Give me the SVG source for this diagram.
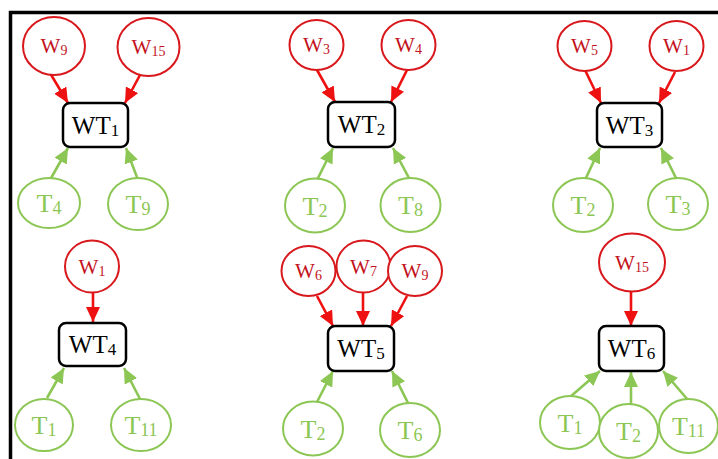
<svg xmlns="http://www.w3.org/2000/svg" width="718" height="459" viewBox="0 0 718 459">
<style>
text{font-family:"Liberation Serif","Times New Roman",serif;text-anchor:middle}
.w ellipse{fill:#fff;stroke:#d8181c;stroke-width:2}
.w text{fill:#c3121c;font-size:21px}
.t ellipse{fill:#fff;stroke:#8cc654;stroke-width:2}
.t text{fill:#8cc654;font-size:26px}
.b rect{fill:#fff;stroke:#000;stroke-width:2.5}
.b text{fill:#000;font-size:25px}
.sw{font-size:14px}
.st{font-size:18px}
.sb{font-size:17px}
.er{stroke:#ee1111;stroke-width:2.6;fill:none;marker-end:url(#ar)}
.eg{stroke:#8cc654;stroke-width:2.6;fill:none;marker-end:url(#ag)}
</style>
<defs>
<marker id="ar" markerUnits="userSpaceOnUse" markerWidth="15" markerHeight="14" refX="15" refY="7" orient="auto"><path d="M0,0 L15,7 L0,14 z" fill="#ee1111"/></marker>
<marker id="ag" markerUnits="userSpaceOnUse" markerWidth="15" markerHeight="14" refX="15" refY="7" orient="auto"><path d="M0,0 L15,7 L0,14 z" fill="#8cc654"/></marker>
</defs>
<rect width="718" height="459" fill="#fff"/>
<path d="M10.5,459 V12.5 H718" fill="none" stroke="#000" stroke-width="3.5"/>

<g id="connectors">
<line class="er" x1="50" y1="73" x2="68" y2="103"/>
<line class="er" x1="140" y1="75" x2="125" y2="103"/>
<line class="eg" x1="50" y1="180" x2="68" y2="148"/>
<line class="eg" x1="138" y1="180" x2="126" y2="148"/>

<line class="er" x1="317" y1="70" x2="335" y2="102"/>
<line class="er" x1="407" y1="70" x2="391" y2="102"/>
<line class="eg" x1="317" y1="180" x2="333" y2="148"/>
<line class="eg" x1="410" y1="180" x2="393" y2="148"/>

<line class="er" x1="585" y1="70" x2="601" y2="103"/>
<line class="er" x1="675" y1="72" x2="659" y2="103"/>
<line class="eg" x1="585" y1="180" x2="600" y2="148"/>
<line class="eg" x1="677" y1="180" x2="661" y2="148"/>

<line class="er" x1="93" y1="292" x2="93" y2="322"/>
<line class="eg" x1="47" y1="398" x2="64" y2="368"/>
<line class="eg" x1="140" y1="399" x2="124" y2="368"/>

<line class="er" x1="317" y1="296" x2="333" y2="326"/>
<line class="er" x1="363" y1="292" x2="363" y2="326"/>
<line class="er" x1="407" y1="296" x2="391" y2="326"/>
<line class="eg" x1="317" y1="402" x2="333" y2="371"/>
<line class="eg" x1="408" y1="403" x2="392" y2="371"/>

<line class="er" x1="631" y1="292" x2="631" y2="326"/>
<line class="eg" x1="570" y1="397" x2="600" y2="371"/>
<line class="eg" x1="631" y1="404" x2="631" y2="372"/>
<line class="eg" x1="688" y1="400" x2="663" y2="371"/>
</g>

<!-- Panel 1 -->
<g id="p1_W9" class="w"><ellipse cx="54" cy="46" rx="31" ry="29"/><text x="54" y="53">W<tspan class="sw" dy="2">9</tspan></text></g>
<g id="p1_W15" class="w"><ellipse cx="148.5" cy="47" rx="31" ry="29"/><text x="148.5" y="54">W<tspan class="sw" dy="2">15</tspan></text></g>
<g id="WT1" class="b"><rect x="63" y="103" width="65" height="44" rx="7"/><text x="95.5" y="133.5">WT<tspan class="sb" dy="2">1</tspan></text></g>
<g id="p1_T4" class="t"><ellipse cx="49" cy="203" rx="31" ry="25"/><text x="49" y="212">T<tspan class="st" dy="2">4</tspan></text></g>
<g id="p1_T9" class="t"><ellipse cx="138" cy="204" rx="30" ry="26"/><text x="138" y="213">T<tspan class="st" dy="2">9</tspan></text></g>

<!-- Panel 2 -->
<g id="p2_W3" class="w"><ellipse cx="316.5" cy="45" rx="27" ry="25"/><text x="316.5" y="52">W<tspan class="sw" dy="2">3</tspan></text></g>
<g id="p2_W4" class="w"><ellipse cx="408.5" cy="45" rx="27" ry="25"/><text x="408.5" y="52">W<tspan class="sw" dy="2">4</tspan></text></g>
<g id="WT2" class="b"><rect x="328" y="102" width="67" height="45" rx="7"/><text x="361.5" y="133">WT<tspan class="sb" dy="2">2</tspan></text></g>
<g id="p2_T2" class="t"><ellipse cx="315" cy="205.5" rx="30" ry="27"/><text x="315" y="214.5">T<tspan class="st" dy="2">2</tspan></text></g>
<g id="p2_T8" class="t"><ellipse cx="410.5" cy="205" rx="30" ry="27"/><text x="410.5" y="214">T<tspan class="st" dy="2">8</tspan></text></g>

<!-- Panel 3 -->
<g id="p3_W5" class="w"><ellipse cx="584.5" cy="46" rx="27" ry="25"/><text x="584.5" y="53">W<tspan class="sw" dy="2">5</tspan></text></g>
<g id="p3_W1" class="w"><ellipse cx="676.5" cy="46" rx="27" ry="25"/><text x="676.5" y="53">W<tspan class="sw" dy="2">1</tspan></text></g>
<g id="WT3" class="b"><rect x="597" y="103" width="65" height="44" rx="7"/><text x="629.5" y="133.5">WT<tspan class="sb" dy="2">3</tspan></text></g>
<g id="p3_T2" class="t"><ellipse cx="583" cy="205" rx="30" ry="27"/><text x="583" y="214">T<tspan class="st" dy="2">2</tspan></text></g>
<g id="p3_T3" class="t"><ellipse cx="678" cy="204" rx="30" ry="26"/><text x="678" y="213">T<tspan class="st" dy="2">3</tspan></text></g>

<!-- Panel 4 -->
<g id="p4_W1" class="w"><ellipse cx="92" cy="266.5" rx="27" ry="26"/><text x="92" y="273.5">W<tspan class="sw" dy="2">1</tspan></text></g>
<g id="WT4" class="b"><rect x="59" y="323" width="67" height="43" rx="7"/><text x="92.5" y="353">WT<tspan class="sb" dy="2">4</tspan></text></g>
<g id="p4_T1" class="t"><ellipse cx="44" cy="425" rx="29" ry="26"/><text x="44" y="434">T<tspan class="st" dy="2">1</tspan></text></g>
<g id="p4_T11" class="t"><ellipse cx="141" cy="425" rx="30" ry="26"/><text x="141" y="434">T<tspan class="st" dy="2">11</tspan></text></g>

<!-- Panel 5 -->
<g id="p5_W6" class="w"><ellipse cx="308.5" cy="271" rx="27" ry="25"/><text x="308.5" y="278">W<tspan class="sw" dy="2">6</tspan></text></g>
<g id="p5_W7" class="w"><ellipse cx="363.5" cy="266.5" rx="27" ry="26"/><text x="363.5" y="273.5">W<tspan class="sw" dy="2">7</tspan></text></g>
<g id="p5_W9" class="w"><ellipse cx="415" cy="271" rx="27" ry="25"/><text x="415" y="278">W<tspan class="sw" dy="2">9</tspan></text></g>
<g id="WT5" class="b"><rect x="328" y="326" width="66" height="45" rx="7"/><text x="361" y="357">WT<tspan class="sb" dy="2">5</tspan></text></g>
<g id="p5_T2" class="t"><ellipse cx="313" cy="428.5" rx="30" ry="27"/><text x="313" y="437.5">T<tspan class="st" dy="2">2</tspan></text></g>
<g id="p5_T6" class="t"><ellipse cx="410" cy="430" rx="30" ry="27"/><text x="410" y="439">T<tspan class="st" dy="2">6</tspan></text></g>

<!-- Panel 6 -->
<g id="p6_W15" class="w"><ellipse cx="632" cy="262.5" rx="33" ry="29"/><text x="632" y="269.5">W<tspan class="sw" dy="2">15</tspan></text></g>
<g id="WT6" class="b"><rect x="599" y="326" width="65" height="45" rx="7"/><text x="631.5" y="357">WT<tspan class="sb" dy="2">6</tspan></text></g>
<g id="p6_T1" class="t"><ellipse cx="570" cy="422.5" rx="30" ry="26.5"/><text x="570" y="431.5">T<tspan class="st" dy="2">1</tspan></text></g>
<g id="p6_T2" class="t"><ellipse cx="628.5" cy="431" rx="29.5" ry="27"/><text x="628.5" y="440">T<tspan class="st" dy="2">2</tspan></text></g>
<g id="p6_T11" class="t"><ellipse cx="688.5" cy="426" rx="29.5" ry="27"/><text x="688.5" y="435">T<tspan class="st" dy="2">11</tspan></text></g>
</svg>
